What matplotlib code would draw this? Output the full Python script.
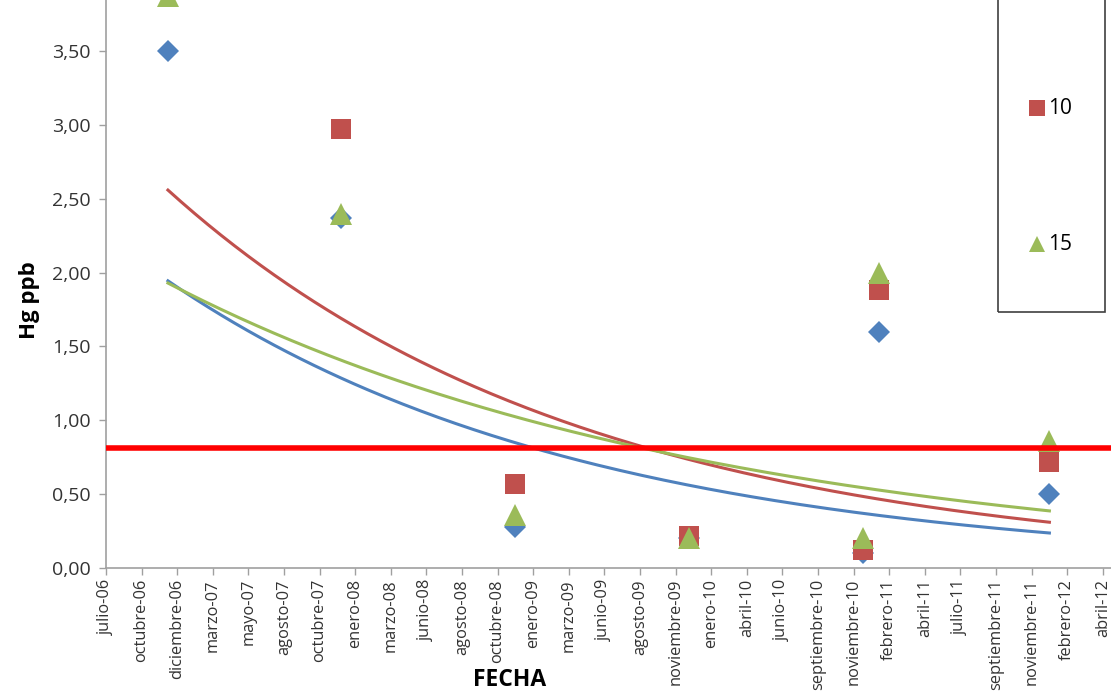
import numpy as np
import matplotlib
matplotlib.use("Agg")
import matplotlib.pyplot as plt
from matplotlib.lines import Line2D
from matplotlib.patches import Rectangle
from matplotlib.ticker import FuncFormatter

plt.rcParams['font.family'] = ['Open Sans', 'DejaVu Sans']

# x axis labels (one per major tick)
tick_labels = ["julio-06", "octubre-06", "diciembre-06", "marzo-07", "mayo-07",
               "agosto-07", "octubre-07", "enero-08", "marzo-08", "junio-08",
               "agosto-08", "octubre-08", "enero-09", "marzo-09", "junio-09",
               "agosto-09", "noviembre-09", "enero-10", "abril-10", "junio-10",
               "septiembre-10", "noviembre-10", "febrero-11", "abril-11", "julio-11",
               "septiembre-11", "noviembre-11", "febrero-12", "abril-12"]

# sampling dates, in units of major ticks
sample_pos = [1.74, 6.6, 11.49, 16.38, 21.26, 21.7, 26.5]

# Hg (ppb) per series
hg_5 = [3.50, 2.37, 0.28, 0.20, 0.10, 1.60, 0.50]
hg_10 = [4.10, 2.97, 0.57, 0.22, 0.12, 1.88, 0.72]
hg_15 = [3.87, 2.40, 0.36, 0.20, 0.20, 2.00, 0.86]

series_names = ["5", "10", "15"]
limit_hg = 0.81

W, H = 1111, 696
fig = plt.figure(figsize=(W / 100, H / 100), dpi=100)
ax = fig.add_axes([106 / W, 128 / H, 29 * 35.6 / W, 4 * 147.7 / H])

colors = ["#4F81BD", "#C0504D", "#9BBB59"]
markers = [("D", 11.5), ("s", 15), ("^", 15.5)]
x = np.array(sample_pos)

for vals, c, (m, ms) in zip([hg_5, hg_10, hg_15], colors, markers):
    ax.plot(x, vals, linestyle="none", marker=m, markersize=ms,
            color=c, markeredgewidth=0, zorder=3)

# exponential trendlines
xs = np.linspace(x.min(), x.max(), 200)
for vals, c in zip([hg_5, hg_10, hg_15], colors):
    b, a = np.polyfit(x, np.log(vals), 1)
    ax.plot(xs, np.exp(a + b * xs), color=c, lw=2.2, zorder=2)

ax.axhline(limit_hg, color="#FF0000", lw=4, zorder=4)

ax.set_xlim(0, 29)
ax.set_ylim(0, 4)
ax.set_xticks(range(len(tick_labels)))
ax.set_xticklabels(tick_labels, rotation=90, fontsize=11.8, color="#333333")
ax.set_yticks(np.arange(0, 3.51, 0.5))
ax.yaxis.set_major_formatter(FuncFormatter(lambda v, p: f"{v:.2f}".replace(".", ",")))
ax.tick_params(axis="y", labelsize=14, colors="#333333", length=5, width=1,
               color="#A0A0A0", pad=6)
ax.tick_params(axis="x", length=5, width=1, color="#A0A0A0", pad=3)

for s in ["top", "right"]:
    ax.spines[s].set_visible(False)
for s in ["left", "bottom"]:
    ax.spines[s].set_color("#A0A0A0")
    ax.spines[s].set_linewidth(1.2)

fig.text(30 / W, 1 - 300 / H, "Hg ppb", rotation=90, ha="center", va="center",
         fontsize=16, fontweight="bold", color="black")
fig.text(510 / W, 1 - 680 / H, "FECHA", ha="center", va="center",
         fontsize=16.5, fontweight="bold", color="black")

# legend box (Excel style, stretched; the first entry sits above the crop)
fig.add_artist(Rectangle((998 / W, 1 - 312 / H), 107 / W, 330 / H,
                         transform=fig.transFigure, fill=False,
                         edgecolor="#404040", lw=1.2))
for i, (name, c, (m, ms)) in enumerate(zip(series_names, colors, markers)):
    if i == 0:
        continue
    yy = 1 - (108 + (i - 1) * 136) / H
    fig.add_artist(Line2D([1037 / W], [yy], transform=fig.transFigure,
                          marker=m, markersize=ms * 0.75, color=c,
                          markeredgewidth=0, linestyle="none"))
    fig.text(1048 / W, yy, name, ha="left", va="center", fontsize=15,
             color="black")

fig.savefig("out.png", dpi=100)
